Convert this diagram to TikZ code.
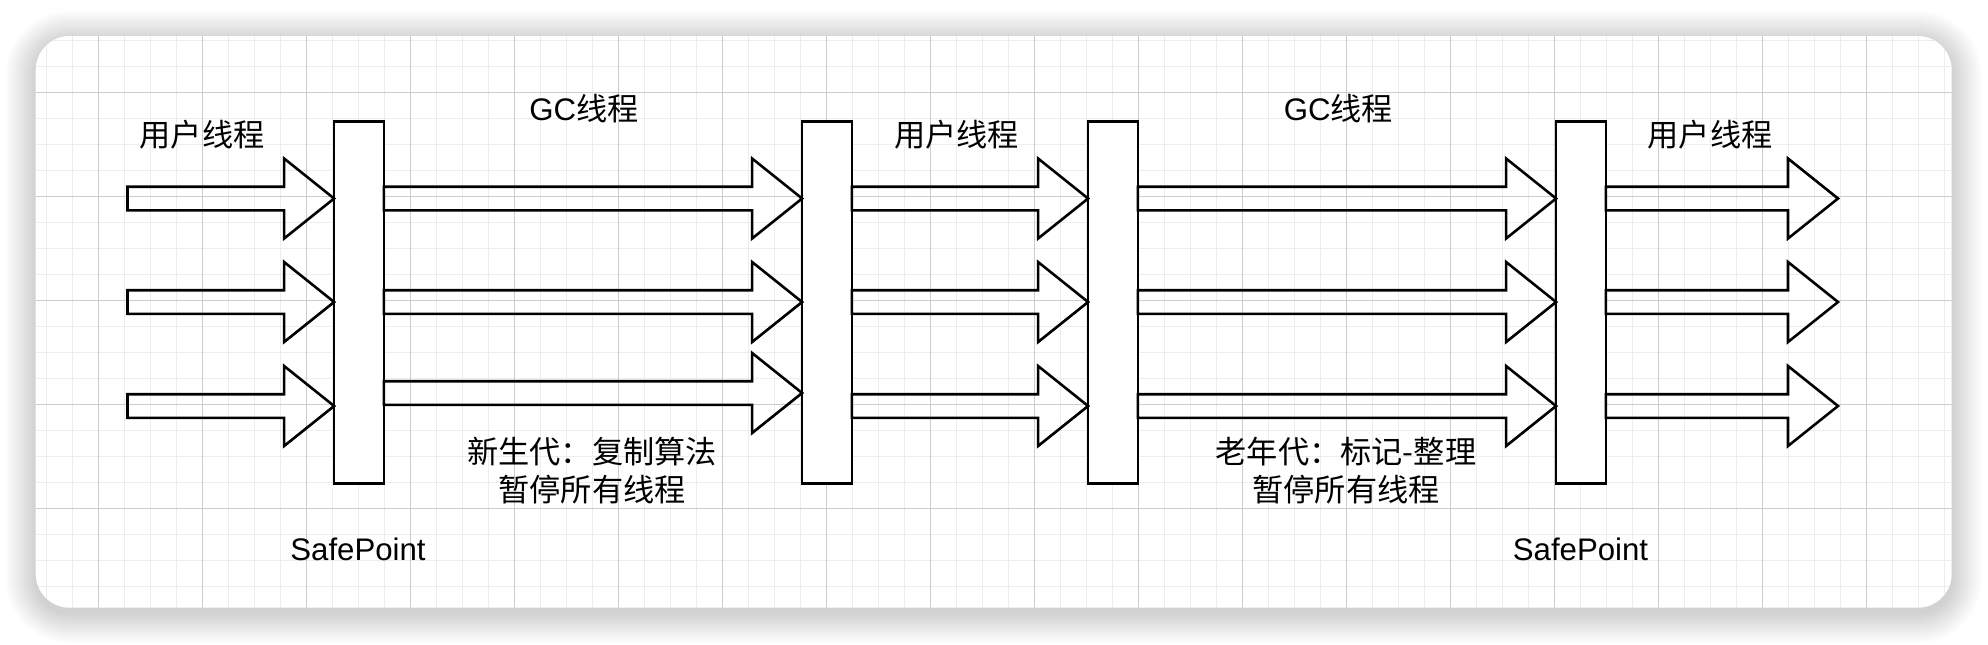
\documentclass[tikz,border=0pt]{standalone}
\usepackage{fontspec}
\setmainfont{Liberation Sans}
\newfontfamily\cjk{Noto Sans CJK SC}
\usetikzlibrary{calc}

\tikzset{
  sp/.style={draw=black, line width=1.3pt, fill=white, minimum width=24.9pt, minimum height=180.8pt, inner sep=0pt, outer sep=0pt},
  flexarrow/.style={draw=black, line width=1.3pt, line join=miter},
  lbl/.style={font=\fontsize{15.6pt}{19pt}\selectfont, inner sep=0pt, align=center},
  cjklbl/.style={font={\cjk\fontsize{15.6pt}{19pt}\selectfont}, inner sep=0pt, align=center},
  minorgrid/.style={draw=black!7, line width=0.65pt},
  majorgrid/.style={draw=black!20, line width=0.5pt},
}

\newcommand{\flexarr}[2]{%
  \draw[flexarrow] let \p1=(#1), \p2=(#2) in
    (\x1,{\y1+5.9pt}) -- ({\x2-25pt},{\y1+5.9pt}) -- ({\x2-25pt},{\y1+20pt}) --
    (\x2,\y2) -- ({\x2-25pt},{\y1-20pt}) -- ({\x2-25pt},{\y1-5.9pt}) --
    (\x1,{\y1-5.9pt}) -- cycle;
}

\begin{document}
\begin{tikzpicture}[x=0.5pt, y=-0.5pt]
\useasboundingbox (0,0) rectangle (1988,644);
\fill[white] (0,0) rectangle (1988,644);

% shadow
\foreach \i in {1,...,15}{
  \fill[black, opacity=0.012, rounded corners={(34+2*\i)/2*1pt}]
    (35.7-2*\i, 41-2*\i) rectangle (1951.7+2*\i, 612.7+2*\i);
}

% card
\fill[white, rounded corners=17pt] (35.7,36) rectangle (1951.7,607.7);
\begin{scope}
  \clip[rounded corners=17pt] (35.7,36) rectangle (1951.7,607.7);
  \foreach \k in {0,...,74}{
    \draw[minorgrid] (20.2+26*\k,30) -- (20.2+26*\k,620);
  }
  \foreach \k in {0,...,23}{
    \draw[minorgrid] (20,14.4+26*\k) -- (1970,14.4+26*\k);
  }
  \foreach \k in {0,...,18}{
    \draw[majorgrid] (98.2+104*\k,30) -- (98.2+104*\k,620);
  }
  \foreach \k in {0,...,5}{
    \draw[majorgrid] (20,92.4+104*\k) -- (1970,92.4+104*\k);
  }
\end{scope}

% safepoint bars
\node[sp] (s1) at (359,302.5) {};
\node[sp] (s2) at (827,302.5) {};
\node[sp] (s3) at (1113,302.5) {};
\node[sp] (s4) at (1581,302.5) {};

% rows
\coordinate (r1) at (0,198.5);
\coordinate (r2) at (0,302);
\coordinate (r3) at (0,406);
\coordinate (r3b) at (0,393);
\coordinate (in1) at (127.5,198.5);
\coordinate (in2) at (127.5,302);
\coordinate (in3) at (127.5,406);
\coordinate (out1) at (1838,198.5);
\coordinate (out2) at (1838,302);
\coordinate (out3) at (1838,406);

% user threads in
\flexarr{in1}{s1.west |- r1}
\flexarr{in2}{s1.west |- r2}
\flexarr{in3}{s1.west |- r3}
% GC 1
\flexarr{s1.east |- r1}{s2.west |- r1}
\flexarr{s1.east |- r2}{s2.west |- r2}
\flexarr{s1.east |- r3b}{s2.west |- r3b}
% user middle
\flexarr{s2.east |- r1}{s3.west |- r1}
\flexarr{s2.east |- r2}{s3.west |- r2}
\flexarr{s2.east |- r3}{s3.west |- r3}
% GC 2
\flexarr{s3.east |- r1}{s4.west |- r1}
\flexarr{s3.east |- r2}{s4.west |- r2}
\flexarr{s3.east |- r3}{s4.west |- r3}
% user out
\flexarr{s4.east |- r1}{out1}
\flexarr{s4.east |- r2}{out2}
\flexarr{s4.east |- r3}{out3}

% labels
\node[cjklbl] (u1) at (202,135) {用户线程};
\node[cjklbl] (u2) at (956.5,135) {用户线程};
\node[cjklbl] (u3) at (1710,135) {用户线程};
\node[lbl] (g1) at (584,109) {GC{\cjk 线程}};
\node[lbl] (g2) at (1338.5,109) {GC{\cjk 线程}};
\node[cjklbl] (n1) at (592,471) {新生代：复制算法\\暂停所有线程};
\node[cjklbl] (n2) at (1346,471) {老年代：标记-整理\\暂停所有线程};
\node[lbl] (sp1) at (358,549.5) {SafePoint};
\node[lbl] (sp2) at (1580.5,549.5) {SafePoint};
\end{tikzpicture}
\end{document}
